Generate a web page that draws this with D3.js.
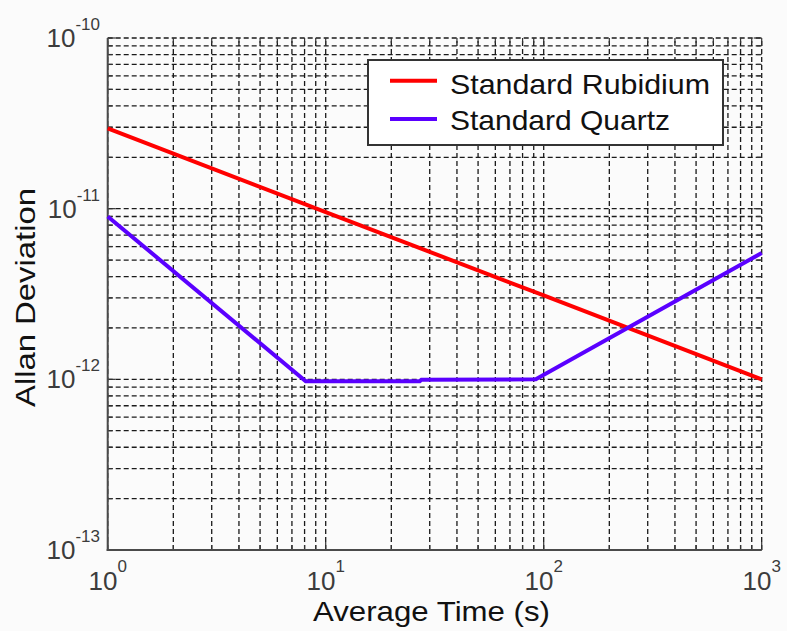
<!DOCTYPE html>
<html>
<head>
<meta charset="utf-8">
<script src="https://cdn.jsdelivr.net/npm/d3@7"></script>
<style>
  html, body { margin: 0; padding: 0; background: #fbfbfb; }
  svg { display: block; }
  text { font-family: "Liberation Sans", Arial, sans-serif; }
</style>
</head>
<body>
<svg id="chart" width="787" height="631"></svg>
<script>
// Averaging times (s) and Allan deviation for each oscillator
const rubidiumTau  = [1, 10, 100, 1000];
const rubidiumAdev = [2.95e-11, 9.55e-12, 3.1e-12, 1.0e-12];

const quartzTau  = [1, 8.1, 27, 27.5, 92, 1000];
const quartzAdev = [9.0e-12, 9.75e-13, 9.75e-13, 9.95e-13, 1.0e-12, 5.5e-12];

const seriesNames = ["Standard Rubidium", "Standard Quartz"];
const xDecades = [0, 1, 2, 3];
const yDecades = [-13, -12, -11, -10];

(function draw() {
  const svg = d3.select("#chart");
  const W = 787, H = 631;
  const pL = 107.7, pR = 761.7, pT = 38, pB = 550;

  const x = d3.scaleLog().domain([1, 1000]).range([pL, pR]);
  const y = d3.scaleLog().domain([1e-13, 1e-10]).range([pB, pT]);

  svg.append("rect").attr("width", W).attr("height", H).attr("fill", "#fbfbfb");

  // dashed grid at every log tick
  const grid = svg.append("g")
    .attr("stroke", "#1a1a1a")
    .attr("stroke-width", 1.3)
    .attr("stroke-dasharray", "5,3");
  grid.selectAll("line.v").data(x.ticks()).join("line")
    .attr("class", "v")
    .attr("x1", d => x(d)).attr("x2", d => x(d))
    .attr("y1", pB).attr("y2", pT);
  grid.selectAll("line.h").data(y.ticks()).join("line")
    .attr("class", "h")
    .attr("y1", d => y(d)).attr("y2", d => y(d))
    .attr("x1", pL).attr("x2", pR);

  // inward tick marks on all four sides
  const isMajor = v => Math.abs(Math.log10(v) - Math.round(Math.log10(v))) < 1e-9;
  const tk = svg.append("g").attr("stroke", "#333").attr("stroke-width", 1.2);
  x.ticks().forEach(v => {
    const len = isMajor(v) ? 8 : 5;
    tk.append("line").attr("x1", x(v)).attr("x2", x(v)).attr("y1", pB).attr("y2", pB - len);
    tk.append("line").attr("x1", x(v)).attr("x2", x(v)).attr("y1", pT).attr("y2", pT + len);
  });
  y.ticks().forEach(v => {
    const len = isMajor(v) ? 8 : 5;
    tk.append("line").attr("y1", y(v)).attr("y2", y(v)).attr("x1", pL).attr("x2", pL + len);
    tk.append("line").attr("y1", y(v)).attr("y2", y(v)).attr("x1", pR).attr("x2", pR - len);
  });

  // left and bottom axis lines
  svg.append("line").attr("x1", pL).attr("x2", pL).attr("y1", pT).attr("y2", pB + 1)
    .attr("stroke", "#4a4a4a").attr("stroke-width", 2);
  svg.append("line").attr("x1", pL - 1).attr("x2", pR).attr("y1", pB).attr("y2", pB)
    .attr("stroke", "#4a4a4a").attr("stroke-width", 2);

  // series lines
  const line = d3.line().x(d => x(d[0])).y(d => y(d[1]));
  const rubidium = rubidiumTau.map((t, i) => [t, rubidiumAdev[i]]);
  const quartz = quartzTau.map((t, i) => [t, quartzAdev[i]]);
  svg.append("path").datum(rubidium).attr("d", line)
    .attr("fill", "none").attr("stroke", "#ff0000").attr("stroke-width", 4);
  svg.append("path").datum(quartz).attr("d", line)
    .attr("fill", "none").attr("stroke", "#5a00ff").attr("stroke-width", 4);

  // decade tick labels, 10 with superscript exponent
  const labelColor = "#3c3c3c";
  const xl = svg.append("g").attr("fill", labelColor);
  xDecades.forEach(e => {
    const t = xl.append("text").attr("x", x(Math.pow(10, e))).attr("y", pB + 40)
      .attr("text-anchor", "middle").attr("font-size", 26);
    t.append("tspan").text("10");
    t.append("tspan").attr("dy", -18).attr("font-size", 17).text(String(e));
  });
  const yl = svg.append("g").attr("fill", labelColor);
  yDecades.forEach(e => {
    const t = yl.append("text").attr("x", 100).attr("y", y(Math.pow(10, e)) + 9)
      .attr("text-anchor", "end").attr("font-size", 26);
    t.append("tspan").text("10");
    t.append("tspan").attr("dy", -17).attr("font-size", 17).text(String(e));
  });

  // axis titles
  svg.append("text").attr("x", 431.5).attr("y", 621)
    .attr("text-anchor", "middle").attr("font-size", 28).attr("fill", "#111")
    .attr("textLength", 237).attr("lengthAdjust", "spacingAndGlyphs")
    .text("Average Time (s)");
  svg.append("text").attr("transform", "translate(35,297.5) rotate(-90)")
    .attr("text-anchor", "middle").attr("font-size", 28).attr("fill", "#111")
    .attr("textLength", 219).attr("lengthAdjust", "spacingAndGlyphs")
    .text("Allan Deviation");

  // legend
  const lg = svg.append("g");
  lg.append("rect").attr("x", 368).attr("y", 60).attr("width", 355).attr("height", 85)
    .attr("fill", "#ffffff").attr("stroke", "#333").attr("stroke-width", 2);
  const legendColors = ["#ff0000", "#5a00ff"];
  const legendLineY = [80.7, 119];
  const legendTextY = [94, 130];
  const legendTextLen = [260, 220];
  seriesNames.forEach((name, i) => {
    lg.append("line").attr("x1", 390).attr("x2", 437)
      .attr("y1", legendLineY[i]).attr("y2", legendLineY[i])
      .attr("stroke", legendColors[i]).attr("stroke-width", 4);
    lg.append("text").attr("x", 450).attr("y", legendTextY[i])
      .attr("font-size", 28).attr("fill", "#111")
      .attr("textLength", legendTextLen[i]).attr("lengthAdjust", "spacingAndGlyphs")
      .text(name);
  });
})();
</script>
</body>
</html>
